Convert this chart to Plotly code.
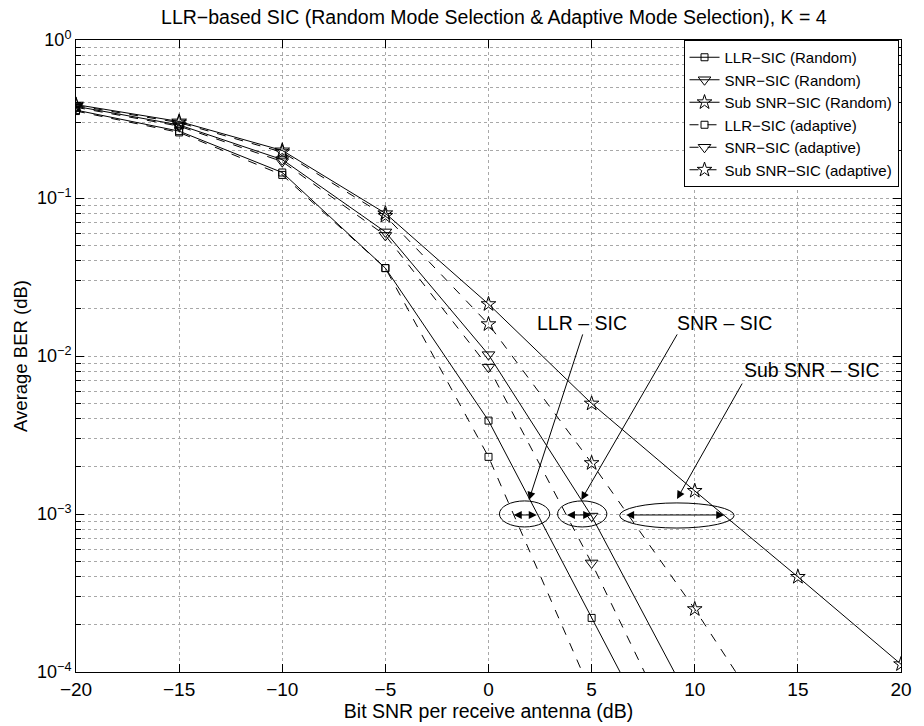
import numpy as np
import plotly.graph_objects as go

# ---------------- data ----------------
snr_db = [-20, -15, -10, -5, 0, 5, 10, 15, 20]

llr_random = [0.36, 0.265, 0.145, 0.036, 0.0039, 2.2e-4, 1.25e-5]
snr_random = [0.38, 0.29, 0.175, 0.061, 0.0102, 9.7e-4, 5.7e-5]
sub_random = [0.39, 0.305, 0.20, 0.080, 0.0213, 0.0050, 1.4e-3, 4.0e-4, 1.12e-4]
llr_adaptive = [0.355, 0.26, 0.14, 0.036, 0.0023, 7.3e-5]
snr_adaptive = [0.375, 0.285, 0.17, 0.058, 0.0085, 4.9e-4, 2.2e-5]
sub_adaptive = [0.385, 0.30, 0.195, 0.077, 0.0159, 0.0021, 2.5e-4, 2.5e-5]

series_names = ["LLR\u2212SIC (Random)", "SNR\u2212SIC (Random)", "Sub SNR\u2212SIC (Random)",
                "LLR\u2212SIC (adaptive)", "SNR\u2212SIC (adaptive)", "Sub SNR\u2212SIC (adaptive)"]

x_tick_vals = [-20, -15, -10, -5, 0, 5, 10, 15, 20]
y_tick_vals = [1e-4, 1e-3, 1e-2, 1e-1, 1]
y_tick_text = ["10<sup>\u22124</sup>", "10<sup>\u22123</sup>", "10<sup>\u22122</sup>",
               "10<sup>\u22121</sup>", "10<sup>0</sup>"]

# annotation labels: (text, text_x, text_BER, tail_x, tail_BER, tip_x, tip_BER)
labels = [
    ("LLR \u2013 SIC", 4.55, 0.0162, 4.59, 0.0140, 1.96, 1.227e-3),
    ("SNR \u2013 SIC", 11.46, 0.0162, 9.19, 0.0140, 4.50, 1.227e-3),
    ("Sub SNR \u2013 SIC", 15.65, 0.00815, 12.34, 0.00684, 9.14, 1.245e-3),
]
# ellipses (x0, x1, BER0, BER1) around BER = 1e-3 and double arrows (xa, xb)
ellipses = [(0.53, 2.97, 8.28e-4, 1.21e-3), (3.35, 5.74, 8.28e-4, 1.21e-3),
            (6.36, 11.91, 8.15e-4, 1.175e-3)]
gap_arrows = [(1.15, 2.34), (3.73, 4.98), (6.60, 11.43)]
gap_level = 0.986e-3

# ---------------- figure ----------------
FONT = "Liberation Sans, Arial, sans-serif"
GRID = "#a8a8a8"
fig = go.Figure()

styles = [
    (llr_random, "square-open", 7, "solid"),
    (snr_random, "triangle-down-open", 11, "solid"),
    (sub_random, "star-open", 11, "solid"),
    (llr_adaptive, "square-open", 7, "dash"),
    (snr_adaptive, "triangle-down-open", 11, "dash"),
    (sub_adaptive, "star-open", 11, "dash"),
]
for (vals, sym, size, dash), name in zip(styles, series_names):
    fig.add_trace(go.Scatter(
        x=snr_db[:len(vals)], y=vals, name=name, mode="lines+markers",
        line=dict(color="black", width=1, dash=dash),
        marker=dict(symbol=sym, size=size, color="black", line=dict(color="black", width=1)),
    ))

for txt, tx, ty, ax_, ay_, hx, hy in labels:
    fig.add_annotation(x=tx, y=np.log10(ty), text=txt, showarrow=False,
                       font=dict(family=FONT, size=19.5, color="black"))
    fig.add_annotation(x=hx, y=np.log10(hy), ax=ax_, ay=np.log10(ay_), axref="x", ayref="y",
                       text="", showarrow=True, arrowhead=2, arrowsize=1.6, arrowwidth=1,
                       arrowcolor="black")

for (x0, x1, y0, y1) in ellipses:
    fig.add_shape(type="circle", xref="x", yref="y", x0=x0, x1=x1,
                  y0=y0, y1=y1, line=dict(color="black", width=1))
for (xa, xb) in gap_arrows:
    fig.add_annotation(x=xb, y=np.log10(gap_level), ax=xa, ay=np.log10(gap_level),
                       axref="x", ayref="y", text="", showarrow=True,
                       arrowhead=2, startarrowhead=2, arrowside="end+start",
                       arrowsize=1.6, startarrowsize=1.6, arrowwidth=1, arrowcolor="black")

grid = dict(showgrid=True, gridcolor=GRID, griddash="dot", gridwidth=1)
fig.update_layout(
    width=924, height=726,
    margin=dict(l=76, r=12, t=40, b=54),
    paper_bgcolor="white", plot_bgcolor="white",
    font=dict(family=FONT, size=18, color="black"),
    title=dict(text="LLR\u2212based SIC (Random Mode Selection &amp; Adaptive Mode Selection), K = 4",
               x=0.5345, xanchor="center", y=0.976, yanchor="middle",
               font=dict(family=FONT, size=19.5, color="black")),
    showlegend=True,
    legend=dict(x=0.997, y=1, xanchor="right", yanchor="top", bgcolor="white",
                bordercolor="black", borderwidth=1, font=dict(family=FONT, size=15, color="black"),
                itemwidth=30, tracegroupgap=0),
    xaxis=dict(range=[-20, 20], tickvals=x_tick_vals, ticks="inside", ticklen=8,
               tickcolor="black", showline=True, linecolor="black", linewidth=1, mirror="ticks",
               zeroline=False, title=dict(text="Bit SNR per receive antenna (dB)", standoff=0,
                                          font=dict(size=19.5)),
               tickfont=dict(size=19), **grid),
    yaxis=dict(type="log", range=[-4, 0], tickvals=y_tick_vals, ticktext=y_tick_text,
               ticks="inside", ticklen=8, tickcolor="black", showline=True, linecolor="black",
               linewidth=1, mirror="ticks", zeroline=False,
               title=dict(text="Average BER (dB)", standoff=4, font=dict(size=18.5)),
               tickfont=dict(size=18),
               minor=dict(dtick="D1", ticks="inside", ticklen=5, tickcolor="black",
                          showgrid=True, gridcolor=GRID, griddash="dot", gridwidth=1),
               **grid),
)

fig.write_html("out.html")
